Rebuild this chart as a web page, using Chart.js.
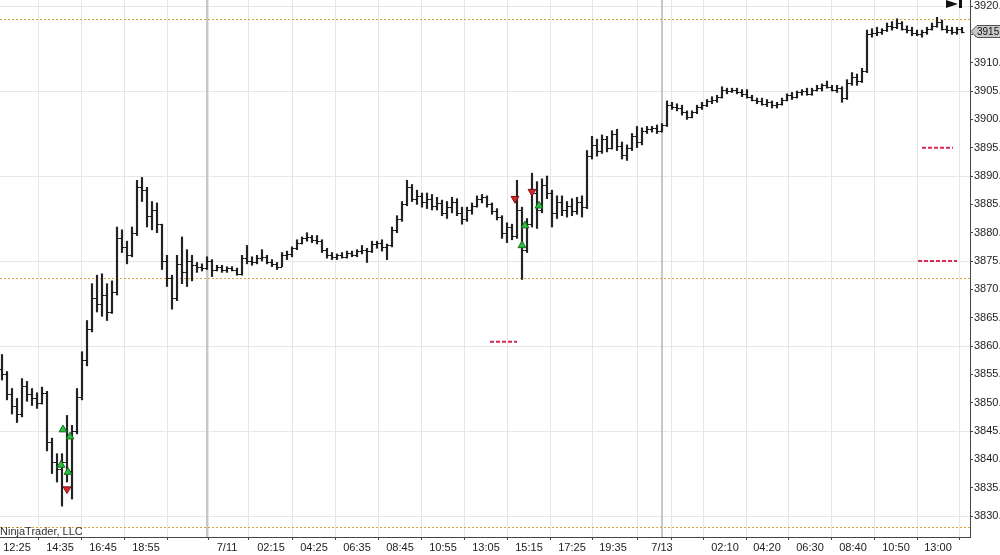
<!DOCTYPE html>
<html>
<head>
<meta charset="utf-8">
<title>ES 10 min</title>
<script src="https://cdn.jsdelivr.net/npm/chart.js@4.4.1/dist/chart.umd.min.js"></script>
<style>
  html, body { margin: 0; padding: 0; background: #fff; }
  #wrap { width: 1000px; height: 555px; position: relative; }
</style>
</head>
<body>
<div id="wrap"><canvas id="priceChart"></canvas></div>
<script>
// OHLC bars (one bar every ~5 px)
const barOpen = [
  3856, 3855, 3851.5, 3849.5, 3848, 3853, 3851.5, 3850.75, 3850, 3851.75,
  3843, 3839.5, 3838.25, 3839.5, 3838, 3845, 3851, 3857.5, 3863, 3868.5,
  3867.5, 3869, 3866, 3869.5, 3879, 3877.5, 3876, 3880, 3888, 3887.5,
  3883, 3884, 3881.5, 3875, 3872, 3868.5, 3874.5, 3873, 3875, 3874.25,
  3874, 3873.75, 3875, 3873.5, 3874, 3873.5, 3873.75, 3873.5, 3872.75, 3875.5,
  3875, 3874.75, 3875.5, 3875.75, 3874.75, 3874.5, 3874, 3876, 3876.25, 3877.25,
  3878.25, 3879, 3879.25, 3878.75, 3878.5, 3877, 3876, 3875.75, 3876, 3875.75,
  3876.5, 3876, 3876.75, 3877, 3876.75, 3878, 3878.25, 3877.5, 3877.75, 3880.5,
  3882.5, 3885, 3888, 3886, 3886.5, 3885.5, 3886, 3884.75, 3885.25, 3883.5,
  3884.5, 3885.5, 3883.5, 3882.5, 3884, 3884.75, 3886, 3886.25, 3885, 3883.75,
  3882.75, 3880, 3881, 3879.5, 3884, 3877, 3881.5, 3887, 3884, 3888.5,
  3887, 3883.5, 3885.5, 3884, 3884.75, 3883.75, 3885.5, 3884.5, 3893.5, 3895.5,
  3894.5, 3896.5, 3895, 3897.5, 3895.25, 3893.75, 3895, 3897, 3896, 3898,
  3898.25, 3898.5, 3898, 3899, 3902.5, 3902.25, 3902, 3901.25, 3900.5, 3901.25,
  3902.25, 3902.5, 3903.25, 3903.5, 3904, 3905.25, 3905, 3905.25, 3904.75, 3904.5,
  3904, 3903.5, 3903.25, 3902.75, 3903, 3902.5, 3902.75, 3903.5, 3904.25, 3904,
  3904.75, 3905, 3904.5, 3905.25, 3905.5, 3906, 3905.75, 3905.25, 3905.5, 3903.75,
  3906.5, 3907.5, 3906.75, 3908.5, 3915, 3915.25, 3915.5, 3915.75, 3916.5, 3916.25,
  3917, 3916, 3915.75, 3915.25, 3915, 3915.5, 3916, 3916.5, 3917.25, 3916,
  3915.75, 3915.5, 3916
];
const barHigh = [
  3858.5, 3855.5, 3852.5, 3850.75, 3854.25, 3853.75, 3852.5, 3851.75, 3852.75, 3852,
  3843.75, 3841, 3841, 3847.75, 3846, 3852.5, 3859, 3864.5, 3871, 3872.5,
  3872.75, 3871, 3871.5, 3881, 3880.5, 3878.5, 3881, 3889.25, 3889.75, 3888,
  3885.5, 3885.25, 3881.5, 3876, 3872.5, 3876, 3879.25, 3877, 3876, 3874.75,
  3874.5, 3875.75, 3875.25, 3874.25, 3874.25, 3874, 3874, 3873.75, 3876, 3877.75,
  3875.75, 3876, 3877, 3876, 3875.25, 3874.75, 3876.5, 3876.75, 3877.5, 3878.75,
  3879.25, 3880, 3879.5, 3879.5, 3878.75, 3877.25, 3876.5, 3876.25, 3876.5, 3876.75,
  3876.75, 3877, 3877.75, 3877.25, 3878.5, 3878.5, 3878.75, 3878, 3881, 3883,
  3885.5, 3889.25, 3888.5, 3887.5, 3887, 3887, 3886.75, 3886.25, 3885.75, 3885.5,
  3886.25, 3886, 3884.5, 3884.5, 3885.25, 3886.5, 3886.75, 3886.5, 3885.25, 3884.25,
  3883, 3881.75, 3881.5, 3889.25, 3884.5, 3882.5, 3890.5, 3889, 3889.5, 3890,
  3887.5, 3886.5, 3886.5, 3885.5, 3886, 3886.25, 3886.5, 3894.5, 3897, 3896.5,
  3897.25, 3897, 3898, 3898.25, 3896, 3895.5, 3897.5, 3898.75, 3898.5, 3898.75,
  3898.75, 3899, 3899.25, 3903.25, 3903, 3902.75, 3902.5, 3901.5, 3901.5, 3902.5,
  3903, 3903.5, 3904, 3904.25, 3905.75, 3905.5, 3905.5, 3905.5, 3905.25, 3905.25,
  3904.25, 3903.75, 3903.75, 3903.5, 3903.25, 3903, 3903.75, 3904.5, 3904.75, 3905,
  3905.25, 3905.5, 3905.5, 3906, 3906.25, 3906.75, 3906, 3906, 3905.75, 3907,
  3908.25, 3908, 3909, 3915.75, 3916, 3916.25, 3916, 3917, 3917.25, 3917.75,
  3917.25, 3916.5, 3916.25, 3915.75, 3915.75, 3916.25, 3917, 3918, 3917.5, 3916.5,
  3916.25, 3916.25, 3916.25
];
const barLow = [
  3854, 3850.5, 3848, 3846.5, 3847.5, 3850.25, 3849.5, 3849, 3849.75, 3841.5,
  3837.5, 3836, 3831.75, 3836, 3833, 3844.5, 3850.5, 3856.5, 3862.5, 3866,
  3865.25, 3864.5, 3865.75, 3869, 3876.5, 3874.5, 3875.75, 3879.5, 3885.5, 3881,
  3880.5, 3880, 3873.5, 3870.5, 3866.5, 3868, 3871, 3870.5, 3871.5, 3873,
  3873.25, 3873.5, 3872.25, 3873.25, 3873, 3873, 3873.25, 3872.5, 3872.5, 3874.5,
  3874.25, 3874.5, 3875, 3874.5, 3874, 3873.5, 3874, 3875.25, 3875.75, 3877,
  3878, 3878.5, 3878.25, 3878, 3876.5, 3875.5, 3875.25, 3875.25, 3875.5, 3875.5,
  3875.75, 3875.75, 3876.25, 3874.75, 3876.5, 3877.25, 3876.75, 3875.25, 3877.5, 3880,
  3882, 3884.75, 3885.5, 3885, 3884.5, 3884.25, 3884, 3884, 3883, 3882.5,
  3883.5, 3883, 3881.5, 3882, 3883.25, 3884.5, 3885.25, 3884.5, 3883.25, 3882.25,
  3879, 3878.25, 3878.75, 3879, 3871.75, 3876.5, 3881, 3880.75, 3883.5, 3886,
  3881, 3882.5, 3883, 3882.75, 3883, 3883.25, 3882.75, 3884.25, 3893, 3893.5,
  3894, 3894.25, 3894.75, 3894.5, 3893, 3892.75, 3894.5, 3895, 3895.5, 3897.5,
  3897.75, 3897.5, 3897.75, 3898.75, 3901.75, 3901.5, 3900.75, 3900, 3900.25, 3901,
  3901.75, 3902.25, 3902.75, 3903, 3903.75, 3904.5, 3904.75, 3904.5, 3904, 3903.75,
  3903.25, 3902.75, 3902.5, 3902.25, 3902, 3902, 3902.5, 3903.25, 3903.5, 3903.75,
  3904.25, 3904.25, 3904.25, 3905, 3905, 3905.5, 3905, 3904.75, 3903, 3903.5,
  3906, 3906, 3906.5, 3908.25, 3914.5, 3914.75, 3915, 3915.5, 3915.75, 3916,
  3915.75, 3915.25, 3914.75, 3914.75, 3914.5, 3915, 3915.75, 3916.25, 3915.75, 3915.25,
  3915, 3915, 3915.25
];
const barClose = [
  3855, 3851.5, 3849.5, 3848, 3853, 3851.5, 3850.75, 3850, 3851.75, 3843,
  3839.5, 3838.25, 3839.5, 3838, 3845, 3851, 3857.5, 3863, 3868.5, 3867.5,
  3869, 3866, 3869.5, 3879, 3877.5, 3876, 3880, 3888, 3887.5, 3883,
  3884, 3881.5, 3875, 3872, 3868.5, 3874.5, 3873, 3875, 3874.25, 3874,
  3873.75, 3875, 3873.5, 3874, 3873.5, 3873.75, 3873.5, 3872.75, 3875.5, 3875,
  3874.75, 3875.5, 3875.75, 3874.75, 3874.5, 3874, 3876, 3876.25, 3877.25, 3878.25,
  3879, 3879.25, 3878.75, 3878.5, 3877, 3876, 3875.75, 3876, 3875.75, 3876.5,
  3876, 3876.75, 3877, 3876.75, 3878, 3878.25, 3877.5, 3877.75, 3880.5, 3882.5,
  3885, 3888, 3886, 3886.5, 3885.5, 3886, 3884.75, 3885.25, 3883.5, 3884.5,
  3885.5, 3883.5, 3882.5, 3884, 3884.75, 3886, 3886.25, 3885, 3883.75, 3882.75,
  3880, 3881, 3879.5, 3884, 3877, 3881.5, 3887, 3884, 3888.5, 3887,
  3883.5, 3885.5, 3884, 3884.75, 3883.75, 3885.5, 3884.5, 3893.5, 3895.5, 3894.5,
  3896.5, 3895, 3897.5, 3895.25, 3893.75, 3895, 3897, 3896, 3898, 3898.25,
  3898.5, 3898, 3899, 3902.5, 3902.25, 3902, 3901.25, 3900.5, 3901.25, 3902.25,
  3902.5, 3903.25, 3903.5, 3904, 3905.25, 3905, 3905.25, 3904.75, 3904.5, 3904,
  3903.5, 3903.25, 3902.75, 3903, 3902.5, 3902.75, 3903.5, 3904.25, 3904, 3904.75,
  3905, 3904.5, 3905.25, 3905.5, 3906, 3905.75, 3905.25, 3905.5, 3903.75, 3906.5,
  3907.5, 3906.75, 3908.5, 3915, 3915.25, 3915.5, 3915.75, 3916.5, 3916.25, 3917,
  3916, 3915.75, 3915.25, 3915, 3915.5, 3916, 3916.5, 3917.25, 3916, 3915.75,
  3915.5, 3916, 3915.5
];

// time axis (positions in bar units)
const timeTickAt = [3, 11.6, 20.2, 28.8, 37.4, 45, 53.8, 62.4, 71, 79.6, 88.2, 96.8,
  105.4, 114, 122.2, 132, 135.8, 144.6, 153, 161.6, 170.2, 178.8, 187.2];
const timeTickLabels = ["12:25", "14:35", "16:45", "18:55", "", "7/11", "02:15", "04:25",
  "06:35", "08:45", "10:55", "13:05", "15:15", "17:25", "19:35", "7/13", "", "02:10",
  "04:20", "06:30", "08:40", "10:50", "13:00"];
const sessionBreaks = [41, 132];

const priceTicks = [3830, 3835, 3840, 3845, 3850, 3855, 3860, 3865, 3870, 3875,
  3880, 3885, 3890, 3895, 3900, 3905, 3910, 3915, 3920];
const levelLines = [3917.75, 3872, 3828];

// trade markers
const buyX = [11.8, 12.2, 13.2, 13.6, 104, 104.6, 107.4];
const buyY = [3839, 3845.25, 3837.75, 3844, 3877.75, 3881.25, 3884.75];
const sellX = [13, 102.6, 106];
const sellY = [3834.75, 3886, 3887.25];

// short dashed target levels
const targetFrom = [97.6, 184, 183.2];
const targetTo = [103, 190.2, 191];
const targetPrice = [3860.75, 3895, 3875];

const FONT = "'Liberation Sans', Arial, sans-serif";

const ohlcTicks = {
  id: "ohlcTicks",
  afterDatasetDraw(chart, args) {
    if (args.index !== 0) return;
    const ctx = chart.ctx;
    const y = chart.scales.y;
    const bars = args.meta.data;
    ctx.save();
    ctx.strokeStyle = "#111";
    ctx.lineWidth = 1;
    ctx.beginPath();
    bars.forEach((b, i) => {
      const yo = Math.round(y.getPixelForValue(barOpen[i])) + 0.5;
      const yc = Math.round(y.getPixelForValue(barClose[i])) + 0.5;
      ctx.moveTo(b.x - 2.5, yo); ctx.lineTo(b.x, yo);
      ctx.moveTo(b.x, yc); ctx.lineTo(b.x + 2.5, yc);
    });
    ctx.stroke();
    ctx.restore();
  }
};

const chartDecor = {
  id: "chartDecor",
  beforeDatasetsDraw(chart) {
    const { ctx, chartArea, scales } = chart;
    ctx.save();
    ctx.strokeStyle = "#b4b4b4";
    ctx.lineWidth = 1.5;
    sessionBreaks.forEach(v => {
      const px = scales.x.getPixelForValue(v);
      ctx.beginPath();
      ctx.moveTo(px, chartArea.top);
      ctx.lineTo(px, chartArea.bottom);
      ctx.stroke();
    });
    ctx.strokeStyle = "#e3a23a";
    ctx.lineWidth = 1;
    ctx.setLineDash([2, 2]);
    levelLines.forEach(v => {
      const py = Math.round(scales.y.getPixelForValue(v)) + 0.5;
      ctx.beginPath();
      ctx.moveTo(chartArea.left, py);
      ctx.lineTo(chartArea.right, py);
      ctx.stroke();
    });
    ctx.restore();
  },
  afterDraw(chart) {
    const { ctx, chartArea, scales } = chart;
    ctx.save();
    // last price marker on the axis
    const last = barClose[barClose.length - 1];
    const py = scales.y.getPixelForValue(last);
    const x0 = chartArea.right + 1;
    ctx.beginPath();
    ctx.moveTo(x0, py);
    ctx.lineTo(x0 + 6, py - 6);
    ctx.lineTo(x0 + 40, py - 6);
    ctx.lineTo(x0 + 40, py + 6);
    ctx.lineTo(x0 + 6, py + 6);
    ctx.closePath();
    ctx.fillStyle = "#c9c9c9";
    ctx.fill();
    ctx.strokeStyle = "#555";
    ctx.lineWidth = 1;
    ctx.stroke();
    ctx.fillStyle = "#111";
    ctx.font = "10px " + FONT;
    ctx.textBaseline = "middle";
    ctx.fillText(last.toFixed(2), x0 + 6, py + 0.5);
    // scroll-to-end button
    ctx.fillStyle = "#111";
    ctx.beginPath();
    ctx.moveTo(946, 0);
    ctx.lineTo(958, 4);
    ctx.lineTo(946, 8);
    ctx.closePath();
    ctx.fill();
    ctx.fillRect(959, 0, 3, 8);
    // watermark
    ctx.fillStyle = "#333";
    ctx.font = "11px " + FONT;
    ctx.textBaseline = "alphabetic";
    ctx.fillText("NinjaTrader, LLC", 0, chartArea.bottom - 2);
    ctx.restore();
  }
};

const bars = barLow.map((lo, i) => ({ x: i, y: [lo, barHigh[i]] }));
const buys = buyX.map((x, i) => ({ x: x, y: buyY[i] }));
const sells = sellX.map((x, i) => ({ x: x, y: sellY[i] }));

const targetSets = targetPrice.map((p, i) => ({
  type: "line",
  data: [{ x: targetFrom[i], y: p }, { x: targetTo[i], y: p }],
  borderColor: "#d62a55",
  borderWidth: 2,
  borderDash: [4, 2],
  pointRadius: 0,
  order: 2
}));

new Chart(document.getElementById("priceChart"), {
  type: "bar",
  data: {
    datasets: [
      {
        data: bars,
        backgroundColor: "#222",
        barThickness: 1.5,
        grouped: false,
        order: 3
      },
      ...targetSets,
      {
        type: "scatter",
        data: buys,
        pointStyle: "triangle",
        pointRadius: 4.5,
        backgroundColor: "#29c23a",
        borderColor: "#176b1f",
        borderWidth: 1,
        order: 1
      },
      {
        type: "scatter",
        data: sells,
        pointStyle: "triangle",
        rotation: 180,
        pointRadius: 4.5,
        backgroundColor: "#d9262a",
        borderColor: "#7a1010",
        borderWidth: 1,
        order: 1
      }
    ]
  },
  options: {
    responsive: true,
    maintainAspectRatio: false,
    animation: false,
    events: [],
    layout: { padding: 0, autoPadding: false },
    plugins: { legend: { display: false }, tooltip: { enabled: false } },
    scales: {
      x: {
        type: "linear",
        min: -0.4,
        max: 193.6,
        offset: false,
        afterBuildTicks: axis => { axis.ticks = timeTickAt.map(v => ({ value: v })); },
        afterFit: axis => { axis.height = 18; axis.paddingLeft = 0; axis.paddingRight = 0; },
        ticks: {
          autoSkip: false,
          maxRotation: 0,
          padding: 1,
          color: "#222",
          font: { family: FONT, size: 11 },
          callback: (v, i) => timeTickLabels[i]
        },
        grid: { color: "#e6e6e6", tickColor: "#444", tickLength: 3 },
        border: { color: "#444" }
      },
      y: {
        type: "linear",
        position: "right",
        min: 3826.3,
        max: 3921.06,
        afterBuildTicks: axis => { axis.ticks = priceTicks.map(v => ({ value: v })); },
        afterFit: axis => { axis.width = 30; axis.paddingTop = 0; axis.paddingBottom = 0; },
        ticks: {
          padding: 1,
          color: "#222",
          font: { family: FONT, size: 11 },
          callback: v => v.toFixed(2)
        },
        grid: {
          color: c => ((c.tick.value - 3830) % 15 === 0 ? "#e6e6e6" : "rgba(0,0,0,0)"),
          tickColor: "#444",
          tickLength: 3
        },
        border: { color: "#444" }
      }
    }
  },
  plugins: [ohlcTicks, chartDecor]
});
</script>
</body>
</html>
